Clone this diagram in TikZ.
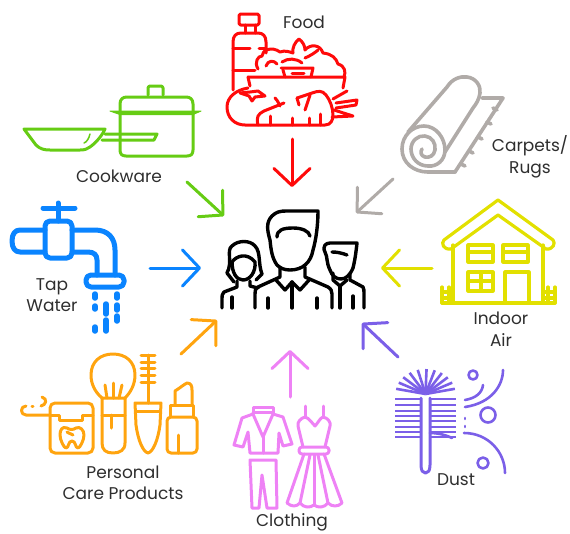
\documentclass[tikz,border=0pt]{standalone}
\usepackage{fontspec}
\setmainfont{Poppins}
\usepackage{tikz}
\usetikzlibrary{arrows.meta, positioning}
\definecolor{foodred}{HTML}{FF0A0A}
\definecolor{cookgreen}{HTML}{66CC14}
\definecolor{rugsgrey}{HTML}{B0ABA8}
\definecolor{tapblue}{HTML}{0A84FF}
\definecolor{airyellow}{HTML}{E2E000}
\definecolor{careorange}{HTML}{FFA40F}
\definecolor{clothpink}{HTML}{EE82F5}
\definecolor{dustviolet}{HTML}{7B5FE8}
\definecolor{labelgrey}{HTML}{2E2E2E}

\begin{document}
\begin{tikzpicture}[
    x=1pt, y=-1pt,
    >={Straight Barb[length=17pt, width=36pt, round]},
    icon/.style={line width=3pt, line cap=round, line join=round},
    source/.style={->, line width=3pt, line cap=round},
    label/.style={text=labelgrey, align=center, inner sep=0pt,
        font=\fontsize{17}{21.5}\selectfont}
]
\useasboundingbox (0,0) rectangle (570,533);

% labels
\node[label] (food) at (304,22) {Food};
\node[label] (cookware) at (119,176) {Cookware};
\node[label] (rugs) at (530,157) {Carpets/\\Rugs};
\node[label] (tap) at (52,295) {Tap\\Water};
\node[label] (air) at (501,329) {Indoor\\Air};
\node[label] (care) at (123,483) {Personal\\Care Products};
\node[label] (clothing) at (292,522.5) {Clothing};
\node[label] (dust) at (456,480) {Dust};

% arrow ends
\coordinate (foodtail) at (292,139);
\coordinate (foodtip) at (292,187);
\coordinate (cooktail) at (187,182);
\coordinate (cooktip) at (224,216);
\coordinate (rugstail) at (393,179);
\coordinate (rugstip) at (356,213);
\coordinate (taptail) at (150,268);
\coordinate (taptip) at (201,268);
\coordinate (airtail) at (432,268);
\coordinate (airtip) at (381,268);
\coordinate (caretail) at (181,354);
\coordinate (caretip) at (217,320);
\coordinate (clothtail) at (290,397);
\coordinate (clothtip) at (290,350);
\coordinate (dusttail) at (398,357);
\coordinate (dusttip) at (362,323);

% arrows
\draw[source, foodred] (foodtail) -- (foodtip);
\draw[source, cookgreen] (cooktail) -- (cooktip);
\draw[source, rugsgrey] (rugstail) -- (rugstip);
\draw[source, tapblue] (taptail) -- (taptip);
\draw[source, airyellow] (airtail) -- (airtip);
\draw[source, careorange] (caretail) -- (caretip);
\draw[source, clothpink] (clothtail) -- (clothtip);
\draw[source, dustviolet] (dusttail) -- (dusttip);

% people
\begin{scope}[icon, black, line width=3.4pt]
\draw (277,265) .. controls (272,258) and (271,250) .. (270,240) .. controls (267,230) and (266,222) .. (272,216) .. controls (276,212) and (280,211) .. (286,211) -- (318,211) .. controls (318,225) and (316,240) .. (313,250) .. controls (311,262) and (303,270) .. (290,270) .. controls (284,270) and (280,268) .. (277,265);
\draw (277,237) .. controls (277,230) and (283,228) .. (293,228) .. controls (302,228) and (309,231) .. (310,236);
\draw (280,267) -- (280,277) -- (258,287) .. controls (255,289) and (255,291) .. (255,294) -- (255,308);
\draw (305,267) -- (305,277) -- (328,287) .. controls (331,289) and (332,291) .. (332,294) -- (332,308);
\draw (276,280) -- (285,290) -- (292,282) -- (300,290) -- (310,279);
\draw (292,282) -- (292,308);
\draw (268,298) -- (268,308);
\draw (317,298) -- (317,308);
% left head
\draw (227,273) .. controls (233,262) and (226,250) .. (232,246) .. controls (238,240) and (250,240) .. (255,246) .. controls (261,252) and (258,264) .. (262,274) -- (256,280);
\draw (227,273) -- (234,282);
\draw (232,262) .. controls (236,256) and (247,252) .. (255,262) .. controls (256,272) and (250,280) .. (243,280) .. controls (236,280) and (232,272) .. (232,262);
\draw (237,281) -- (237,287) -- (224,292) .. controls (222,294) and (222,296) .. (222,298) -- (222,308);
\draw (250,281) -- (250,286) -- (258,288);
\draw (232,297) -- (232,308);
% right head
\draw (330,270) .. controls (326,262) and (328,258) .. (325,252) .. controls (322,246) and (326,243) .. (330,243) -- (357,243) .. controls (356,252) and (355,260) .. (353,268) .. controls (350,275) and (346,279) .. (341,279) .. controls (336,279) and (332,276) .. (330,270);
\draw (332,252) .. controls (337,252) and (342,253) .. (347,255);
\draw (350,274) -- (350,280) -- (363,287) .. controls (364,289) and (364,291) .. (364,293) -- (364,308);
\draw (333,273) -- (333,280) -- (340,286) -- (347,280);
\draw (340,286) -- (340,308);
\draw (353,296) -- (353,308);
\end{scope}

% food
\begin{scope}[icon, foodred]
\draw[rounded corners=1.5pt] (239,14) rectangle (259,25);
\draw (245,25) -- (245,33);
\draw (255,25) -- (255,33);
\draw (233,90) -- (233,42) .. controls (233,36) and (236,33) .. (241,33) -- (258,33) .. controls (263,33) and (266,36) .. (266,42) -- (266,53);
\draw (233,48) -- (250,48);
\draw (259,48) -- (266,48);
\draw (233,70) -- (255,70);
% salad
\draw (258,69) .. controls (254,62) and (258,56) .. (262,56) .. controls (262,50) and (272,46) .. (280,52) .. controls (285,50) and (290,52) .. (293,53) .. controls (292,48) and (295,42) .. (299,39) .. controls (303,42) and (305,46) .. (305,50) .. controls (310,44) and (320,44) .. (323,53) .. controls (332,54) and (336,58) .. (338,64) .. controls (345,66) and (346,72) .. (344,77);
\draw (266,66) .. controls (268,60) and (274,60) .. (277,64);
\draw (282,62) .. controls (288,58) and (296,58) .. (302,63);
\draw (305,58) .. controls (310,56) and (316,52) .. (318,50);
\draw (281,68) -- (313,68) -- (311,77);
\draw (283,70) -- (285,77);
\draw (292,73) -- (304,73);
\draw (248,77) -- (345,77) -- (343,88);
\draw (248,77) -- (250,86);
% tomato and carrot
\draw (248,88) .. controls (236,90) and (227,97) .. (227,107) .. controls (227,118) and (235,125) .. (245,125) -- (325,125) .. controls (331,125) and (333,120) .. (333,115) .. controls (333,108) and (330,100) .. (326,95) .. controls (322,90) and (318,91) .. (312,93) -- (297,98);
\draw (297,98) -- (299,105);
\draw (258,125) .. controls (256,117) and (258,114) .. (264,111) -- (284,103);
\draw (270,125) -- (270,116);
\draw (292,118) -- (292,125);
\draw (305,110) -- (310,95);
\draw (309,118) -- (309,125);
\draw (320,114) -- (320,125);
\draw (275,98) .. controls (278,101) and (279,104) .. (280,106);
\draw (240,93) -- (249,96) -- (252,101) -- (255,97) -- (265,96) -- (258,91) -- (250,92) -- cycle;
\draw (333,99) -- (347,91);
\draw (336,103) -- (357,100) -- (356,105) -- (336,108);
\draw (334,110) -- (353,116) -- (332,117);
\end{scope}

% cookware
\begin{scope}[icon, cookgreen]
\draw (148,95) -- (148,88) .. controls (148,87) and (149,86) .. (150,86) -- (161,86) .. controls (162,86) and (163,87) .. (163,88) -- (163,95);
\draw (120,112) -- (120,104) .. controls (120,99) and (123,97) .. (127,97) -- (186,97) .. controls (190,97) and (193,99) .. (193,104) -- (193,112);
\draw[fill=cookgreen, line width=1pt] (110,111) -- (201,111) -- (193,114.5) -- (120,114.5) -- cycle;
\draw (120,114) -- (120,150) .. controls (120,154) and (122,156) .. (126,156) -- (187,156) .. controls (191,156) and (193,154) .. (193,150) -- (193,114);
\draw (24,129) -- (105,129) .. controls (103,134) and (97,142) .. (90,147) .. controls (87,149) and (85,150) .. (80,150) -- (50,150) .. controls (44,150) and (40,149) .. (36,145) -- cycle;
\draw (105,134) -- (157,134) -- (154,140) -- (102,140);
\draw[line width=1.5pt] (90,134) .. controls (89,138) and (87,142) .. (84,143);
\end{scope}

% tap
\begin{scope}[icon, tapblue, line width=5pt]
\draw (43,208) -- (75,208);
\draw (58,203) -- (58,221);
\draw[rounded corners=5pt] (45,221) rectangle (72,258);
\draw (45,230) -- (20,230) .. controls (15,230) and (12,234) .. (12,241) .. controls (12,248) and (15,252) .. (20,252) -- (45,252);
\draw (72,230) -- (95,230) .. controls (108,230) and (115,238) .. (115,250) -- (115,275);
\draw (72,252) -- (88,252) .. controls (94,252) and (97,255) .. (97,260) -- (97,275);
\draw[rounded corners=5pt] (86,275) rectangle (124,287);
\draw[line width=5.5pt] (95,294) -- (95,298);
\draw[line width=5.5pt] (95,306) -- (95,309);
\draw[line width=5.5pt] (95,327) -- (95,331);
\draw[line width=5.5pt] (106,304) -- (106,314);
\draw[line width=5.5pt] (106,320) -- (106,331);
\draw[line width=5.5pt] (117,294) -- (117,298);
\draw[line width=5.5pt] (117,305) -- (117,310);
\draw[line width=5.5pt] (117,316) -- (117,321);
\end{scope}

% carpet roll
\begin{scope}[icon, rugsgrey, line width=3.6pt]
\draw (408,132) -- (447,87) .. controls (452,79) and (460,76) .. (467,77) .. controls (476,78) and (481,86) .. (480,93) .. controls (479,100) and (476,104) .. (473,108) -- (445,152);
\draw (428,172) .. controls (414,172) and (402,163) .. (402,149) .. controls (402,136) and (412,126) .. (424,126) .. controls (436,126) and (445,138) .. (445,150) .. controls (445,160) and (437,167) .. (428,166) .. controls (418,166) and (411,158) .. (411,149) .. controls (411,141) and (418,135) .. (425,136) .. controls (432,137) and (436,143) .. (435,150) .. controls (434,156) and (429,158) .. (425,157) .. controls (421,156) and (420,152) .. (422,149);
\draw (428,172) -- (455,172);
\draw (482,98) -- (503,98) -- (455,172);
\draw (493,108) -- (497,110);
\draw (487,122) -- (491,124);
\draw (478,137) -- (482,139);
\draw (469,151) -- (473,153);
\draw (461,164) -- (465,166);
\end{scope}

% house
\begin{scope}[icon, airyellow, line width=3.2pt]
\draw (498,200) -- (444,240) .. controls (441,243) and (443,250) .. (451,249) -- (498,215) -- (546,249) .. controls (553,250) and (556,243) .. (553,240) -- cycle;
\draw (453,245) -- (453,303);
\draw (543,245) -- (543,303);
\draw (442,303) -- (555,303);
\draw (442,287) -- (442,303);
\draw (449,287) -- (449,303);
\draw (442,292) -- (453,292);
\draw (442,298) -- (453,298);
\draw (548,287) -- (548,303);
\draw (555,287) -- (555,303);
\draw (543,292) -- (555,292);
\draw (543,298) -- (555,298);
\draw (468,245) rectangle (493,262);
\draw (468,252) -- (493,252);
\draw (503,245) rectangle (528,262);
\draw (503,252) -- (528,252);
\draw (468,272) rectangle (493,291);
\draw (481,272) -- (481,291);
\draw (468,281) -- (493,281);
\draw (505,303) -- (505,272) -- (529,272) -- (529,303);
\end{scope}

% care products
\begin{scope}[icon, careorange]
\draw[rounded corners=5pt] (50,403) rectangle (93,453);
\draw (50,415) -- (59,415) -- (59,420) -- (82,420) -- (82,415) -- (93,415);
\draw (50,415) -- (26,415) .. controls (20,415) and (20,406) .. (26,406);
\draw (32,406) -- (33,406);
\draw (41,406) .. controls (46,405) and (48,399) .. (42,397);
\draw (67,428) .. controls (62,426) and (60,430) .. (60,435) .. controls (60,440) and (64,448) .. (66,448) .. controls (69,448) and (68,441) .. (72,441) .. controls (76,441) and (75,448) .. (78,448) .. controls (80,448) and (84,440) .. (84,435) .. controls (84,430) and (80,426) .. (76,428) .. controls (73,430) and (70,430) .. (67,428);
\draw (67,432) .. controls (70,434) and (72,434) .. (73,435);
\draw (102,398) .. controls (95,392) and (91,384) .. (91,375) .. controls (91,362) and (100,354) .. (113,354) .. controls (126,354) and (135,362) .. (135,375) .. controls (135,384) and (131,392) .. (125,398);
\draw (105,385) -- (107,398);
\draw (113,383) -- (113,398);
\draw (122,385) -- (119,398);
\draw (102,398) -- (125,398) -- (125,443) .. controls (125,450) and (120,453) .. (113,453) .. controls (106,453) and (102,450) .. (102,443) -- cycle;
\draw (102,415) -- (125,415);
\draw (111,415) -- (111,428);
\foreach \rowy in {355,362,368,375,382} {
    \draw (141,\rowy) -- (155,\rowy);
}
\draw (148,355) -- (148,403);
\draw (135,403) -- (161,403) -- (160,425) .. controls (158,440) and (153,452) .. (148,453) .. controls (143,452) and (138,440) .. (136,425) -- cycle;
\draw (136,411) -- (160,411);
\draw (175,405) -- (175,391) .. controls (180,388) and (183,385) .. (187,383) .. controls (191,383) and (192,386) .. (192,390) -- (192,405);
\draw (170,417) -- (170,405) -- (193,405) -- (193,417);
\draw[rounded corners=4pt] (167,417) rectangle (197,453);
\draw (178,435) -- (178,453);
\end{scope}

% clothing
\begin{scope}[icon, clothpink]
\draw (253,414) -- (253,407) -- (273,407) -- (273,414);
\draw (253,412) -- (273,412);
\draw (253,414) -- (242,418) -- (234,445) -- (243,447) -- (248,432) -- (250,453) -- (278,453) -- (279,433) -- (283,446) -- (292,444) -- (283,417) -- (273,414);
\draw (253,414) -- (263,437) -- (273,414);
\draw (263,437) -- (263,453);
\draw (250,460) -- (276,460) -- (277,508) -- (267,508) -- (262,475) -- (259,508) -- (252,508) -- cycle;
\draw (305,406) -- (305,417);
\draw (323,406) -- (323,417);
\draw (303,447) -- (298,426) .. controls (297,422) and (301,418) .. (305,417) .. controls (309,418) and (312,423) .. (315,426) .. controls (318,423) and (320,418) .. (323,417) .. controls (328,418) and (331,422) .. (330,426) -- (325,447);
\draw[rounded corners=3pt] (299,447) rectangle (329,454);
\draw (304,454) -- (287,503) .. controls (292,507) and (296,507) .. (300,503) .. controls (304,508) and (310,508) .. (314,505) .. controls (318,508) and (324,508) .. (328,503) .. controls (332,507) and (338,507) .. (342,503) -- (324,454);
\draw (310,455) -- (300,503);
\draw (314,455) -- (314,505);
\draw (318,455) -- (328,503);
\end{scope}

% dust brush
\begin{scope}[icon, dustviolet, line cap=butt, line width=2.6pt]
\draw[line cap=round, line width=3pt] (421,398) -- (421,465) .. controls (421,471) and (423,473) .. (425.5,473) .. controls (428,473) and (430,471) .. (430,465) -- (430,398);
\foreach \fanangle in {12,27,42,57,72,88,105,122,138,153,168} {
    \draw (425.5,394) -- ++(-\fanangle:30 and 25);
}
\foreach \rowy in {399,405,411,416,421,427,432,437} {
    \draw (395,\rowy) -- (421,\rowy);
    \draw (430,\rowy) -- (456,\rowy);
}
\draw[line cap=round] (430,433) .. controls (440,433) and (448,436) .. (452,438);
\end{scope}
\begin{scope}[icon, dustviolet, line width=2.6pt]
\draw (473,375) circle[radius=4.5];
\draw (488,415) circle[radius=7.5];
\draw (483,463) circle[radius=5.5];
\draw (503,370) .. controls (503,385) and (492,403) .. (465,407);
\draw (483,385) .. controls (482,393) and (476,398) .. (465,400);
\draw (465,418) -- (465,419);
\draw (465,426) -- (465,427);
\draw (464,433) .. controls (488,433) and (505,452) .. (505,473);
\end{scope}

\end{tikzpicture}
\end{document}
